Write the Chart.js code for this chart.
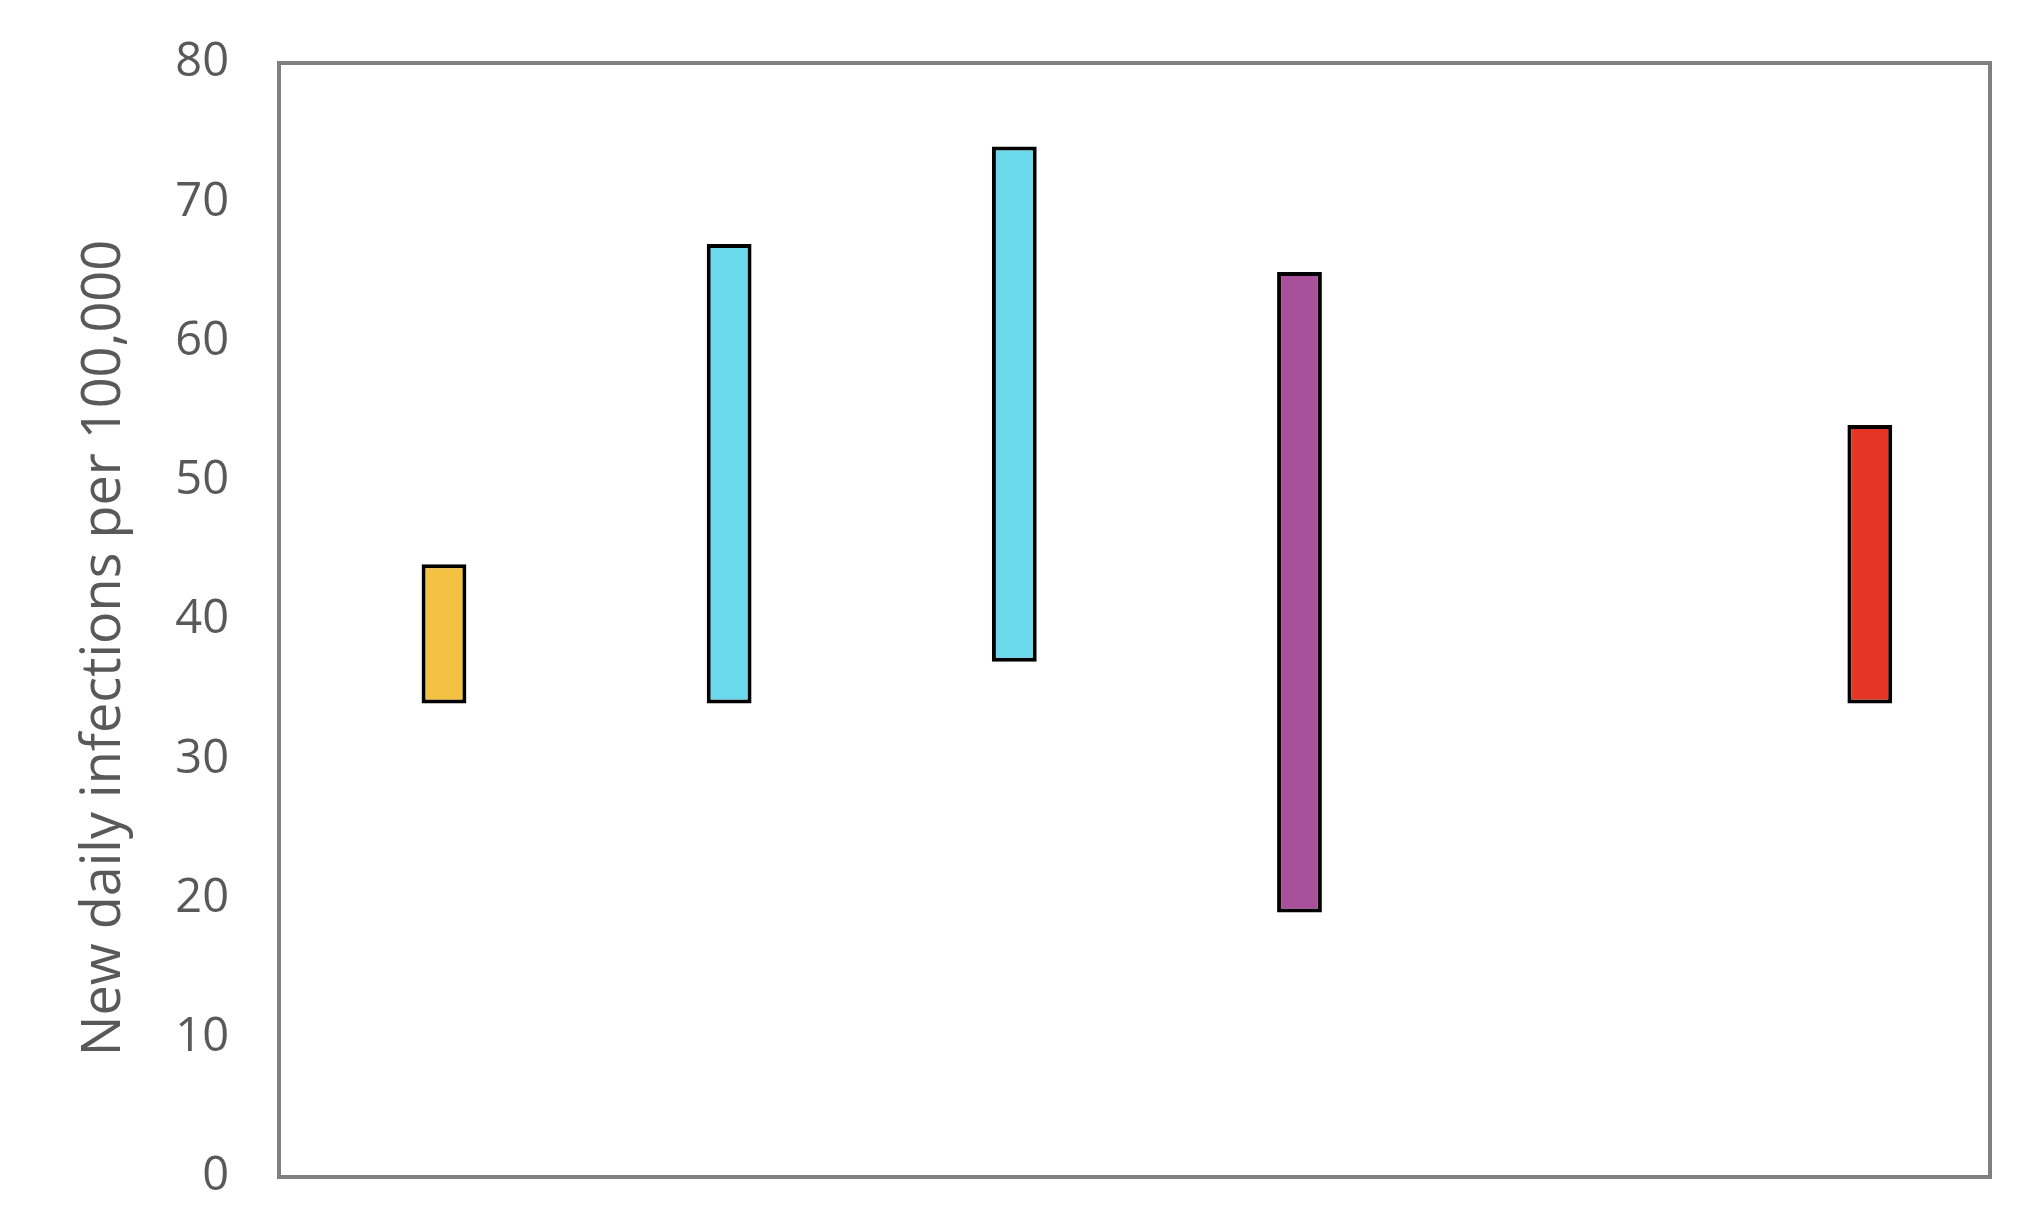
<!DOCTYPE html>
<html>
<head>
<meta charset="utf-8">
<script src="https://cdn.jsdelivr.net/npm/chart.js@4"></script>
<style>
  html, body { margin: 0; padding: 0; background: #ffffff; }
  canvas { display: block; }
</style>
</head>
<body>
<canvas id="myChart" width="2020" height="1216"></canvas>
<script>
// groups along the x axis (no labels shown on the original)
var categories = ['1', '2', '3', '4', '5', '6'];
// low / high end of each range, per group
var lows  = [34, 34, 37, 19, null, 34];
var highs = [44, 67, 74, 65, null, 54];
var yTicks = [0, 10, 20, 30, 40, 50, 60, 70, 80];
var barColors = ['#F4C243', '#6BD9EC', '#6BD9EC', '#A8509A', '#FFFFFF', '#E63524'];

var ranges = lows.map(function (lo, i) {
    return lo === null ? null : [lo, highs[i]];
});

// draws the grey box round the plot area
var frame = {
    id: 'frame',
    afterDraw: function (chart) {
        var a = chart.chartArea;
        var c = chart.ctx;
        c.save();
        c.strokeStyle = '#808080';
        c.lineWidth = 4;
        c.strokeRect(a.left, a.top, a.right - a.left, a.bottom - a.top);
        c.restore();
    }
};

var ctx = document.getElementById('myChart').getContext('2d');
var myChart = new Chart(ctx, {
    type: 'bar',
    data: {
        labels: categories,
        datasets: [{
            // empty slot, pushes the real bars right of the group centre
            label: 'spacer',
            data: categories.map(function () { return null; })
        }, {
            label: 'New daily infections',
            data: ranges,
            backgroundColor: barColors,
            borderColor: '#000000',
            borderWidth: 4,
            borderSkipped: false
        }]
    },
    options: {
        responsive: false,
        devicePixelRatio: 1,
        animation: false,
        categoryPercentage: 0.3142,
        barPercentage: 1,
        layout: {
            padding: { left: 0, top: 63, right: 30, bottom: 39 }
        },
        plugins: {
            legend: { display: false },
            tooltip: { enabled: false }
        },
        scales: {
            x: {
                display: false
            },
            y: {
                min: 0,
                max: 80,
                afterBuildTicks: function (scale) {
                    scale.ticks = yTicks.map(function (v) { return { value: v }; });
                },
                afterFit: function (scale) {
                    scale.width = 279;
                },
                // invisible tick marks, only used to push the labels left
                grid: {
                    drawOnChartArea: false,
                    tickLength: 50,
                    tickColor: 'rgba(0,0,0,0)'
                },
                border: { display: false },
                ticks: {
                    color: '#595959',
                    padding: 0,
                    font: { family: 'Open Sans', size: 47 }
                },
                title: {
                    display: true,
                    text: 'New daily infections per 100,000\u00a0\u00a0\u00a0\u00a0',
                    color: '#595959',
                    padding: { top: 72, bottom: 0 },
                    font: { family: 'Open Sans', size: 54 }
                }
            }
        }
    },
    plugins: [frame]
});
</script>
</body>
</html>
